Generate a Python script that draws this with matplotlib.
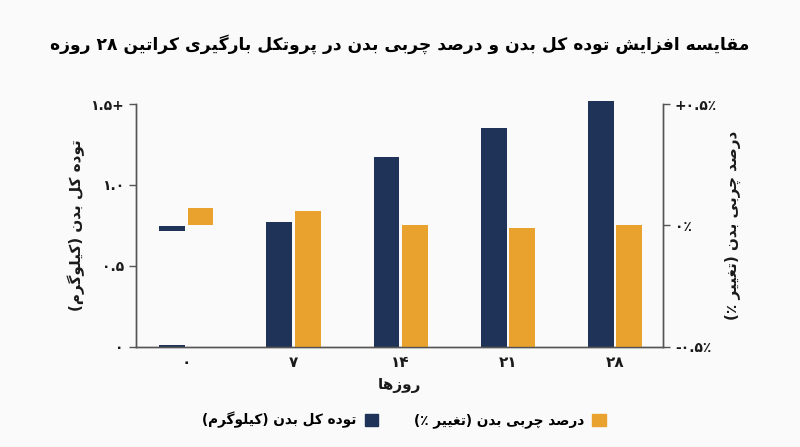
import numpy as np
import matplotlib
matplotlib.use("Agg")
import matplotlib.pyplot as plt
from matplotlib.patches import Patch

# data
days = ['۰', '۷', '۱۴', '۲۱', '۲۸']
mass_kg = [0.01, 0.77, 1.17, 1.35, 1.52]
mass_mark_kg = 0.73          # the short dash drawn over day 0
fat_pct = [0.07, 0.06, 0.0, -0.01, 0.0]
fat_base = [0.0, -0.5, -0.5, -0.5, -0.5]
left_ticks = [0, 0.5, 1.0, 1.5]
left_labels = ['۰', '۰.۵', '۱.۰', '۱.۵+']
right_ticks = [-0.5, 0, 0.5]
right_labels = ['-۰.۵٪', '۰٪', '+۰.۵٪']

title = 'مقایسه افزایش توده کل بدن و درصد چربی بدن در پروتکل بارگیری کراتین ۲۸ روزه'
mass_name = 'توده کل بدن (کیلوگرم)'
fat_name = 'درصد چربی بدن (تغییر ٪)'
x_name = 'روزها'

# persian letters -> (isolated, final, initial, medial); two forms = joins only to the right
FORMS = {
    'ا': (0xFE8D, 0xFE8E), 'د': (0xFEA9, 0xFEAA), 'ر': (0xFEAD, 0xFEAE),
    'ز': (0xFEAF, 0xFEB0), 'و': (0xFEED, 0xFEEE),
    'ب': (0xFE8F, 0xFE90, 0xFE91, 0xFE92), 'پ': (0xFB56, 0xFB57, 0xFB58, 0xFB59),
    'ت': (0xFE95, 0xFE96, 0xFE97, 0xFE98), 'ج': (0xFE9D, 0xFE9E, 0xFE9F, 0xFEA0),
    'چ': (0xFB7A, 0xFB7B, 0xFB7C, 0xFB7D), 'س': (0xFEB1, 0xFEB2, 0xFEB3, 0xFEB4),
    'ش': (0xFEB5, 0xFEB6, 0xFEB7, 0xFEB8), 'ص': (0xFEB9, 0xFEBA, 0xFEBB, 0xFEBC),
    'غ': (0xFECD, 0xFECE, 0xFECF, 0xFED0), 'ف': (0xFED1, 0xFED2, 0xFED3, 0xFED4),
    'ق': (0xFED5, 0xFED6, 0xFED7, 0xFED8), 'ک': (0xFB8E, 0xFB8F, 0xFB90, 0xFB91),
    'گ': (0xFB92, 0xFB93, 0xFB94, 0xFB95), 'ل': (0xFEDD, 0xFEDE, 0xFEDF, 0xFEE0),
    'م': (0xFEE1, 0xFEE2, 0xFEE3, 0xFEE4), 'ن': (0xFEE5, 0xFEE6, 0xFEE7, 0xFEE8),
    'ه': (0xFEE9, 0xFEEA, 0xFEEB, 0xFEEC), 'ی': (0xFBFC, 0xFBFD, 0xFBFE, 0xFBFF),
}
DIGITS = set('۰۱۲۳۴۵۶۷۸۹0123456789.')


def fa(text):
    """shape persian letters and put them in visual (left to right) order"""
    out = []
    for i, ch in enumerate(text):
        f = FORMS.get(ch)
        if f is None:
            out.append(ch)
            continue
        prev = text[i - 1] if i > 0 else ''
        nxt = text[i + 1] if i + 1 < len(text) else ''
        join_prev = prev in FORMS and len(FORMS[prev]) == 4
        join_next = len(f) == 4 and nxt in FORMS
        if join_prev and join_next:
            out.append(chr(f[3]))
        elif join_prev:
            out.append(chr(f[1]))
        elif join_next:
            out.append(chr(f[2]))
        else:
            out.append(chr(f[0]))
    vis = []
    run = []
    for ch in reversed(out):
        if ch in DIGITS:
            run.append(ch)
            continue
        if run:
            vis.extend(reversed(run))
            run = []
        vis.append({'(': ')', ')': '('}.get(ch, ch))
    vis.extend(reversed(run))
    return ''.join(vis)


navy = '#1f3358'
gold = '#e8a22d'
bg = '#fafafa'
dark = '#1a1a1a'
grey = '#555555'

plt.rcParams['font.family'] = ['DejaVu Sans']

fig = plt.figure(figsize=(8, 4.47), dpi=100, facecolor=bg)
ax = fig.add_axes([0.1696, 0.2244, 0.6592, 0.5429], facecolor=bg)
ax2 = ax.twinx()

x = np.arange(len(days))
w = 0.24
ax.bar(x[1:] - 0.13, mass_kg[1:], w, color=navy, clip_on=False)
ax.bar(x[0] - 0.13, mass_kg[0], w, color=navy)
ax.bar(x[0] - 0.13, 0.03, w, bottom=mass_mark_kg - 0.015, color=navy)
heights = [f - b for f, b in zip(fat_pct, fat_base)]
ax2.bar(x + 0.135, heights, w, bottom=fat_base, color=gold)

ax.set_xlim(-0.47, 4.45)
ax.set_ylim(0, 1.5)
ax2.set_ylim(-0.5, 0.5)

ax.set_xticks(x)
ax.set_xticklabels(days, fontsize=11, fontweight='bold', color=dark)
ax.set_yticks(left_ticks)
ax.set_yticklabels(left_labels, fontsize=10, fontweight='bold', color=dark)
ax2.set_yticks(right_ticks)
ax2.set_yticklabels(right_labels, fontsize=10, fontweight='bold', color=dark)

for a in (ax, ax2):
    a.spines['top'].set_visible(False)
    for s in ('left', 'right', 'bottom'):
        a.spines[s].set_color(grey)
        a.spines[s].set_linewidth(1.0)
    a.tick_params(colors=grey, length=5, width=1.0, labelcolor=dark)
ax.tick_params(axis='x', length=0, pad=6)

ax.set_xlabel(fa(x_name), fontsize=11, fontweight='bold', color=dark, labelpad=6)
ax.set_ylabel(fa(mass_name), fontsize=11, fontweight='bold', color=dark, labelpad=4)
ax2.set_ylabel(fa(fat_name), fontsize=11, fontweight='bold', color=dark,
               rotation=90, labelpad=6)

fig.text(0.5, 0.9016, fa(title), fontsize=12.3, fontweight='bold', color='black',
         ha='center', va='center')

handles = [Patch(color=navy, label=fa(mass_name)), Patch(color=gold, label=fa(fat_name))]
fig.legend(handles=handles, loc='center', bbox_to_anchor=(0.505, 0.06), ncol=2,
           frameon=False, markerfirst=False, handlelength=1.0, handleheight=1.0,
           handletextpad=0.6, columnspacing=2.6, prop={'size': 9.8, 'weight': 'bold'})

fig.savefig('out.png', dpi=100, facecolor=bg)
